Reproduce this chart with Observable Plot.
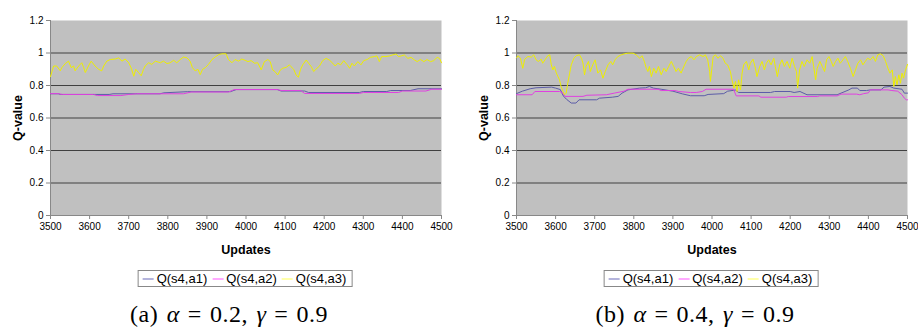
<!DOCTYPE html>
<html><head><meta charset="utf-8">
<script src="https://cdn.jsdelivr.net/npm/d3@7"></script>
<script src="https://cdn.jsdelivr.net/npm/@observablehq/plot@0.6"></script>
<style>
body{margin:0;background:#fff;font-family:"Liberation Sans",Arial,sans-serif;}
#root{position:relative;width:918px;height:332px;overflow:hidden;}
.panel{position:absolute;top:0;width:459px;height:332px;}
.panel svg{position:absolute;left:0;top:0;}
.legend{position:absolute;top:270px;left:245px;transform:translateX(-50%);height:15px;border:1px solid #888;font-size:13px;line-height:15px;display:flex;align-items:center;padding:0 2px 0 2px;white-space:nowrap;background:#fff}
.sw{display:inline-block;width:11px;height:0;border-top:2px solid;margin:0 3px 0 2px;}
.item{display:flex;align-items:center;margin-right:3px}
.cap{position:absolute;top:301px;left:229px;font-family:"Liberation Serif","DejaVu Serif",serif;font-size:24px;letter-spacing:0.5px;white-space:nowrap;transform:translateX(-50%)}
.eq{margin:0 8px}
.cap i{margin-left:2px}
</style></head>
<body><div id="root"></div>
<script>
const seriesNames = ["Q(s4,a1)", "Q(s4,a2)", "Q(s4,a3)"];
const seriesColors = ["#5c5ca8", "#e040e0", "#eeee00"];
const legendColors = ["#b4b4dc", "#ffaaff", "#ffffaa"];
const xTicks = [3500,3600,3700,3800,3900,4000,4100,4200,4300,4400,4500];
const yTicks = [0,0.2,0.4,0.6,0.8,1,1.2];
const yTickLabels = ["0","0.2","0.4","0.6","0.8","1","1.2"];
const gridValues = [0.2,0.4,0.6,0.8,1];
const captions = ["(a) <i>α</i><span class='eq'>=</span>0.2, <i>γ</i><span class='eq'>=</span>0.9", "(b) <i>α</i><span class='eq'>=</span>0.4, <i>γ</i><span class='eq'>=</span>0.9"];

// Panel (a): alpha = 0.2
const a_a1X = [3500,3520,3525,3650,3660,3780,3790,3850,3960,3975,4080,4090,4150,4160,4290,4300,4360,4370,4420,4440,4500];
const a_a1Y = [0.749,0.749,0.745,0.745,0.749,0.749,0.755,0.762,0.762,0.775,0.775,0.766,0.766,0.757,0.757,0.763,0.763,0.769,0.769,0.78,0.78];
const a_a2X = [3500,3520,3530,3610,3620,3680,3700,3720,3840,3860,3955,3970,4080,4090,4140,4150,4290,4300,4390,4400,4460,4475,4500];
const a_a2Y = [0.75,0.75,0.745,0.745,0.738,0.738,0.745,0.749,0.749,0.76,0.76,0.775,0.775,0.769,0.769,0.751,0.751,0.757,0.757,0.766,0.766,0.777,0.777];
const a_a3X = [3500,3508,3516,3525,3529,3538,3546,3553,3559,3563,3572,3580,3585,3589,3597,3604,3614,3623,3631,3636,3644,3653,3666,3674,3683,3691,3700,3706,3713,3718,3725,3732,3738,3742,3751,3759,3768,3781,3789,3798,3806,3815,3823,3832,3840,3849,3857,3863,3870,3877,3883,3889,3896,3904,3913,3921,3930,3938,3949,3955,3964,3972,3981,3989,3998,4005,4013,4022,4030,4039,4047,4056,4062,4068,4074,4081,4088,4094,4103,4111,4115,4122,4128,4134,4139,4145,4154,4160,4167,4173,4179,4188,4196,4205,4213,4222,4228,4235,4242,4250,4259,4265,4271,4277,4286,4294,4301,4310,4318,4328,4335,4341,4347,4358,4367,4375,4384,4390,4397,4405,4414,4422,4431,4438,4446,4455,4463,4472,4480,4489,4495,4500];
const a_a3Y = [0.855,0.92,0.92,0.89,0.91,0.935,0.95,0.91,0.92,0.89,0.92,0.94,0.91,0.88,0.92,0.95,0.92,0.90,0.89,0.92,0.95,0.96,0.963,0.97,0.95,0.963,0.94,0.91,0.857,0.90,0.88,0.86,0.90,0.92,0.94,0.93,0.95,0.94,0.95,0.935,0.94,0.955,0.94,0.96,0.975,0.97,0.95,0.91,0.89,0.90,0.867,0.90,0.91,0.93,0.96,0.975,0.99,0.995,0.995,0.96,0.94,0.96,0.95,0.963,0.955,0.947,0.953,0.937,0.94,0.896,0.947,0.96,0.947,0.896,0.886,0.865,0.896,0.906,0.912,0.927,0.916,0.90,0.865,0.851,0.896,0.927,0.957,0.937,0.916,0.886,0.90,0.92,0.953,0.967,0.957,0.937,0.92,0.937,0.927,0.953,0.927,0.906,0.937,0.92,0.947,0.927,0.953,0.96,0.973,0.978,0.982,0.947,0.978,0.978,0.982,0.988,0.994,0.978,0.982,0.988,0.967,0.973,0.957,0.947,0.96,0.947,0.96,0.947,0.953,0.973,0.967,0.94];

// Panel (b): alpha = 0.4
const b_a1X = [3500,3515,3535,3550,3590,3600,3612,3620,3628,3640,3652,3660,3705,3712,3745,3760,3770,3785,3815,3830,3840,3850,3870,3900,3925,3945,3980,3990,4030,4040,4060,4068,4150,4160,4200,4210,4225,4243,4320,4330,4350,4358,4372,4378,4395,4405,4432,4440,4455,4465,4486,4492,4500];
const b_a1Y = [0.75,0.765,0.78,0.786,0.79,0.784,0.775,0.735,0.715,0.692,0.692,0.712,0.712,0.722,0.728,0.733,0.753,0.773,0.784,0.786,0.794,0.784,0.777,0.765,0.748,0.737,0.737,0.745,0.75,0.765,0.772,0.757,0.757,0.763,0.763,0.757,0.763,0.743,0.743,0.753,0.773,0.784,0.784,0.769,0.769,0.773,0.773,0.79,0.794,0.784,0.777,0.753,0.753];
const b_a2X = [3500,3540,3547,3610,3618,3624,3670,3680,3730,3750,3775,3785,3862,3870,3905,3915,3945,3960,3975,3985,4055,4062,4120,4125,4190,4195,4270,4275,4320,4330,4370,4378,4388,4400,4405,4450,4460,4475,4486,4492,4497,4500];
const b_a2Y = [0.743,0.743,0.763,0.763,0.755,0.733,0.733,0.74,0.743,0.753,0.765,0.777,0.777,0.769,0.769,0.763,0.757,0.757,0.763,0.777,0.777,0.736,0.736,0.728,0.728,0.732,0.732,0.736,0.736,0.747,0.747,0.743,0.75,0.755,0.773,0.773,0.769,0.765,0.743,0.722,0.712,0.712];
const b_a3X = [3500,3504,3510,3516,3521,3529,3538,3544,3550,3556,3563,3567,3573,3580,3585,3589,3593,3597,3602,3606,3610,3614,3619,3623,3627,3631,3636,3640,3647,3653,3661,3666,3670,3674,3678,3684,3689,3695,3701,3708,3715,3721,3727,3734,3741,3746,3752,3759,3768,3776,3785,3798,3806,3815,3821,3827,3832,3836,3840,3845,3851,3857,3863,3870,3877,3883,3889,3896,3902,3908,3914,3921,3928,3934,3940,3947,3954,3960,3968,3977,3983,3989,3994,3996,4003,4009,4015,4022,4028,4034,4040,4047,4051,4056,4060,4064,4068,4073,4077,4081,4088,4094,4098,4105,4111,4115,4122,4128,4134,4139,4145,4151,4158,4162,4167,4173,4179,4185,4192,4199,4205,4211,4216,4219,4224,4230,4236,4243,4250,4256,4260,4265,4269,4276,4282,4288,4293,4299,4305,4310,4316,4322,4328,4335,4341,4347,4354,4361,4367,4373,4380,4386,4392,4398,4405,4412,4418,4424,4431,4438,4444,4450,4455,4461,4465,4469,4473,4478,4482,4486,4490,4495,4500];
const b_a3Y = [0.97,0.983,0.968,0.906,0.962,0.978,0.975,0.989,0.958,0.948,0.962,0.937,0.958,0.983,0.989,0.927,0.896,0.917,0.876,0.855,0.835,0.794,0.763,0.743,0.753,0.814,0.876,0.927,0.968,0.983,0.989,0.968,0.937,0.866,0.917,0.948,0.886,0.927,0.958,0.876,0.896,0.845,0.886,0.927,0.948,0.927,0.958,0.978,0.989,0.995,0.999,0.999,0.989,0.968,0.983,0.948,0.906,0.886,0.917,0.855,0.906,0.876,0.917,0.866,0.906,0.886,0.917,0.948,0.917,0.886,0.906,0.876,0.917,0.948,0.968,0.978,0.958,0.978,0.989,0.978,0.989,0.958,0.886,0.825,0.978,0.989,0.968,0.983,0.968,0.937,0.927,0.886,0.835,0.784,0.825,0.763,0.835,0.773,0.876,0.927,0.948,0.896,0.937,0.962,0.906,0.855,0.917,0.948,0.896,0.937,0.958,0.927,0.968,0.917,0.855,0.927,0.958,0.917,0.948,0.906,0.968,0.917,0.886,0.784,0.896,0.948,0.917,0.958,0.937,0.978,0.917,0.835,0.906,0.948,0.917,0.886,0.958,0.978,0.948,0.917,0.948,0.968,0.937,0.958,0.978,0.948,0.906,0.855,0.896,0.937,0.958,0.927,0.948,0.968,0.958,0.978,0.948,0.989,0.995,0.983,0.948,0.906,0.876,0.896,0.794,0.855,0.804,0.866,0.814,0.876,0.845,0.896,0.93];

function rows(xs, ys){ return xs.map((x,i)=>({u:x, q:ys[i]})); }

function makePanel(left, sets, caption){
  const div = document.createElement("div");
  div.className = "panel";
  div.style.left = left + "px";
  const chart = Plot.plot({
    width: 459, height: 262,
    marginLeft: 50, marginRight: 18, marginTop: 20, marginBottom: 47,
    style: {fontFamily: "'Liberation Sans', Arial, sans-serif", fontSize: "10px", color: "#000", background: "transparent"},
    x: {domain: [3500, 4500]},
    y: {domain: [0, 1.2]},
    marks: [
      Plot.frame({fill: "#c0c0c0", stroke: "none"}),
      Plot.ruleY(gridValues, {stroke: "#404040", strokeWidth: 1}),
      Plot.ruleX([3500], {stroke: "#888"}),
      Plot.ruleY([0], {stroke: "#888"}),
      Plot.axisY(yTicks, {tickSize: 4, tickPadding: 3, stroke: "#888", fill: "#000", label: null, tickFormat: d => yTickLabels[yTicks.indexOf(d)]}),
      Plot.axisX(xTicks, {tickSize: 4, tickPadding: 3, stroke: "#888", fill: "#000", label: null, tickFormat: d => String(d)}),
      ...sets.map((s, k) => Plot.line(rows(s[0], s[1]), {x: "u", y: "q", stroke: seriesColors[k], strokeWidth: 1})),
      Plot.text(["Q-value"], {text: d => d, frameAnchor: "left", dx: -33, rotate: -90, textAnchor: "middle", lineAnchor: "middle", fontWeight: "bold", fontSize: 12.5}),
      Plot.text(["Updates"], {text: d => d, frameAnchor: "bottom", dy: 34, textAnchor: "middle", lineAnchor: "middle", fontWeight: "bold", fontSize: 12.5})
    ]
  });
  div.appendChild(chart);
  const leg = document.createElement("div");
  leg.className = "legend";
  seriesNames.forEach((n, k) => {
    const it = document.createElement("span");
    it.className = "item";
    const sw = document.createElement("span");
    sw.className = "sw";
    sw.style.borderTopColor = legendColors[k];
    it.appendChild(sw);
    it.appendChild(document.createTextNode(n));
    leg.appendChild(it);
  });
  div.appendChild(leg);
  const cap = document.createElement("div");
  cap.className = "cap";
  cap.innerHTML = caption;
  div.appendChild(cap);
  document.getElementById("root").appendChild(div);
}

makePanel(0, [[a_a1X, a_a1Y], [a_a2X, a_a2Y], [a_a3X, a_a3Y]], captions[0]);
makePanel(466, [[b_a1X, b_a1Y], [b_a2X, b_a2Y], [b_a3X, b_a3Y]], captions[1]);
</script>
</body></html>
